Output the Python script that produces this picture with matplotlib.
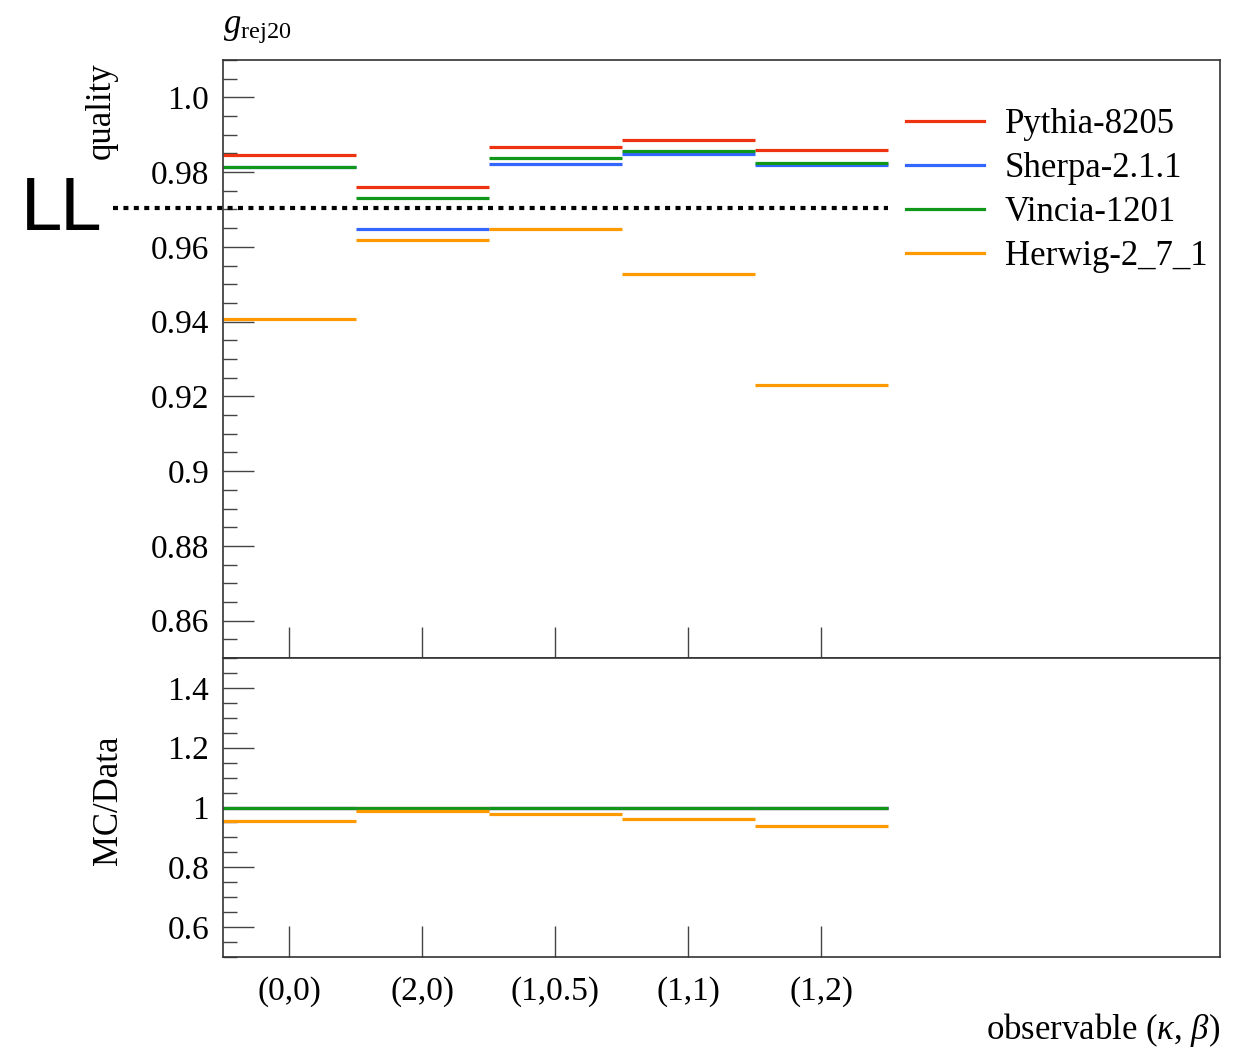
import matplotlib
matplotlib.use("Agg")
import matplotlib.pyplot as plt
import numpy as np
from matplotlib.ticker import MultipleLocator, FixedLocator, FixedFormatter

# bins / observables
labels = ["(0,0)", "(2,0)", "(1,0.5)", "(1,1)", "(1,2)"]
edges = [0, 1, 2, 3, 4, 5]

generators = ["Pythia-8205", "Sherpa-2.1.1", "Vincia-1201", "Herwig-2_7_1"]
colors = ["#EE3311", "#3366FF", "#109618", "#FF9900"]

# quality values (upper panel)
pythia = [0.9845, 0.9761, 0.9867, 0.9885, 0.9859]
sherpa = [0.9815, 0.9649, 0.9821, 0.9849, 0.9818]
vincia = [0.9815, 0.9732, 0.9838, 0.9857, 0.9825]
herwig = [0.9407, 0.9618, 0.9649, 0.9527, 0.9231]

# MC/Data ratio (lower panel)
ratio_pythia = [1.000, 1.000, 1.000, 1.000, 1.000]
ratio_sherpa = [1.000, 0.994, 0.998, 0.999, 0.999]
ratio_vincia = [1.000, 1.000, 1.000, 1.000, 1.000]
ratio_herwig = [0.956, 0.987, 0.978, 0.963, 0.938]

LL_value = 0.9703

upper_ticks = [0.86, 0.88, 0.90, 0.92, 0.94, 0.96, 0.98, 1.00]
upper_ticklabels = ["0.86", "0.88", "0.9", "0.92", "0.94", "0.96", "0.98", "1.0"]
lower_ticks = [0.6, 0.8, 1.0, 1.2, 1.4]
lower_ticklabels = ["0.6", "0.8", "1", "1.2", "1.4"]

SERIF = "Liberation Serif"
plt.rcParams["font.family"] = SERIF
plt.rcParams["mathtext.fontset"] = "custom"
plt.rcParams["mathtext.rm"] = SERIF
plt.rcParams["mathtext.it"] = SERIF + ":italic"

fig = plt.figure(figsize=(12.48, 10.5), dpi=100)
ax = fig.add_axes([0.1787, 0.37333, 0.7989, 0.56953])
axr = fig.add_axes([0.1787, 0.08857, 0.7989, 0.28476])

lo = np.array(edges[:-1])
hi = np.array(edges[1:])

for vals, c in zip([pythia, sherpa, vincia, herwig], colors):
    ax.hlines(vals, lo, hi, colors=c, lw=2.3)
for vals, c in zip([ratio_pythia, ratio_sherpa, ratio_vincia, ratio_herwig], colors):
    axr.hlines(vals, lo, hi, colors=c, lw=2.3)

# LL reference line, runs out past the left axis
ax.plot([-0.83, 5.0], [LL_value, LL_value], color="black", lw=3,
        linestyle=(0, (1.2, 1.3)), clip_on=False, zorder=5)
fig.text(0.016, 0.80, "LL", family="DejaVu Sans", fontsize=52,
         ha="left", va="center")

centers = [0.5, 1.5, 2.5, 3.5, 4.5]
for a in (ax, axr):
    a.set_xlim(0, 7.5)
    a.xaxis.set_major_locator(FixedLocator(centers))
    a.tick_params(axis="x", which="major", direction="in", length=22, width=1,
                  bottom=True, top=False, color="#444444")
    a.tick_params(axis="y", which="major", direction="in", length=22, width=1,
                  left=True, right=False, color="#444444", labelsize=24, pad=10)
    a.tick_params(axis="y", which="minor", direction="in", length=10, width=1,
                  left=True, right=False, color="#444444")
    for s in a.spines.values():
        s.set_linewidth(1.2)
        s.set_color("#333333")

ax.set_ylim(0.85, 1.01)
ax.yaxis.set_major_locator(FixedLocator(upper_ticks))
ax.yaxis.set_major_formatter(FixedFormatter(upper_ticklabels))
ax.yaxis.set_minor_locator(MultipleLocator(0.005))
ax.tick_params(axis="x", labelbottom=False)

axr.set_ylim(0.5, 1.5)
axr.yaxis.set_major_locator(FixedLocator(lower_ticks))
axr.yaxis.set_major_formatter(FixedFormatter(lower_ticklabels))
axr.yaxis.set_minor_locator(MultipleLocator(0.05))
axr.set_xticklabels(labels, fontsize=24)
axr.tick_params(axis="x", pad=14)

# labels
fig.text(0.1787, 0.973, r"$g_{\rm rej20}$", fontsize=25, ha="left", va="center")
fig.text(0.081, 0.941, "quality", rotation=90, fontsize=25, ha="center", va="top")
fig.text(0.087, 0.238, "MC/Data", rotation=90, fontsize=25, ha="center", va="center")
fig.text(0.9776, 0.019, r"observable ($\kappa$, $\beta$)", fontsize=25,
         ha="right", va="center")

handles = [plt.Line2D([], [], color=c, lw=2.3) for c in colors]
ax.legend(handles, generators, loc="upper right", bbox_to_anchor=(1.008, 0.955),
          frameon=False, fontsize=25, handlelength=2.25, handletextpad=0.6,
          labelspacing=0.32, borderaxespad=0.2)

fig.savefig("out.png", dpi=100)
